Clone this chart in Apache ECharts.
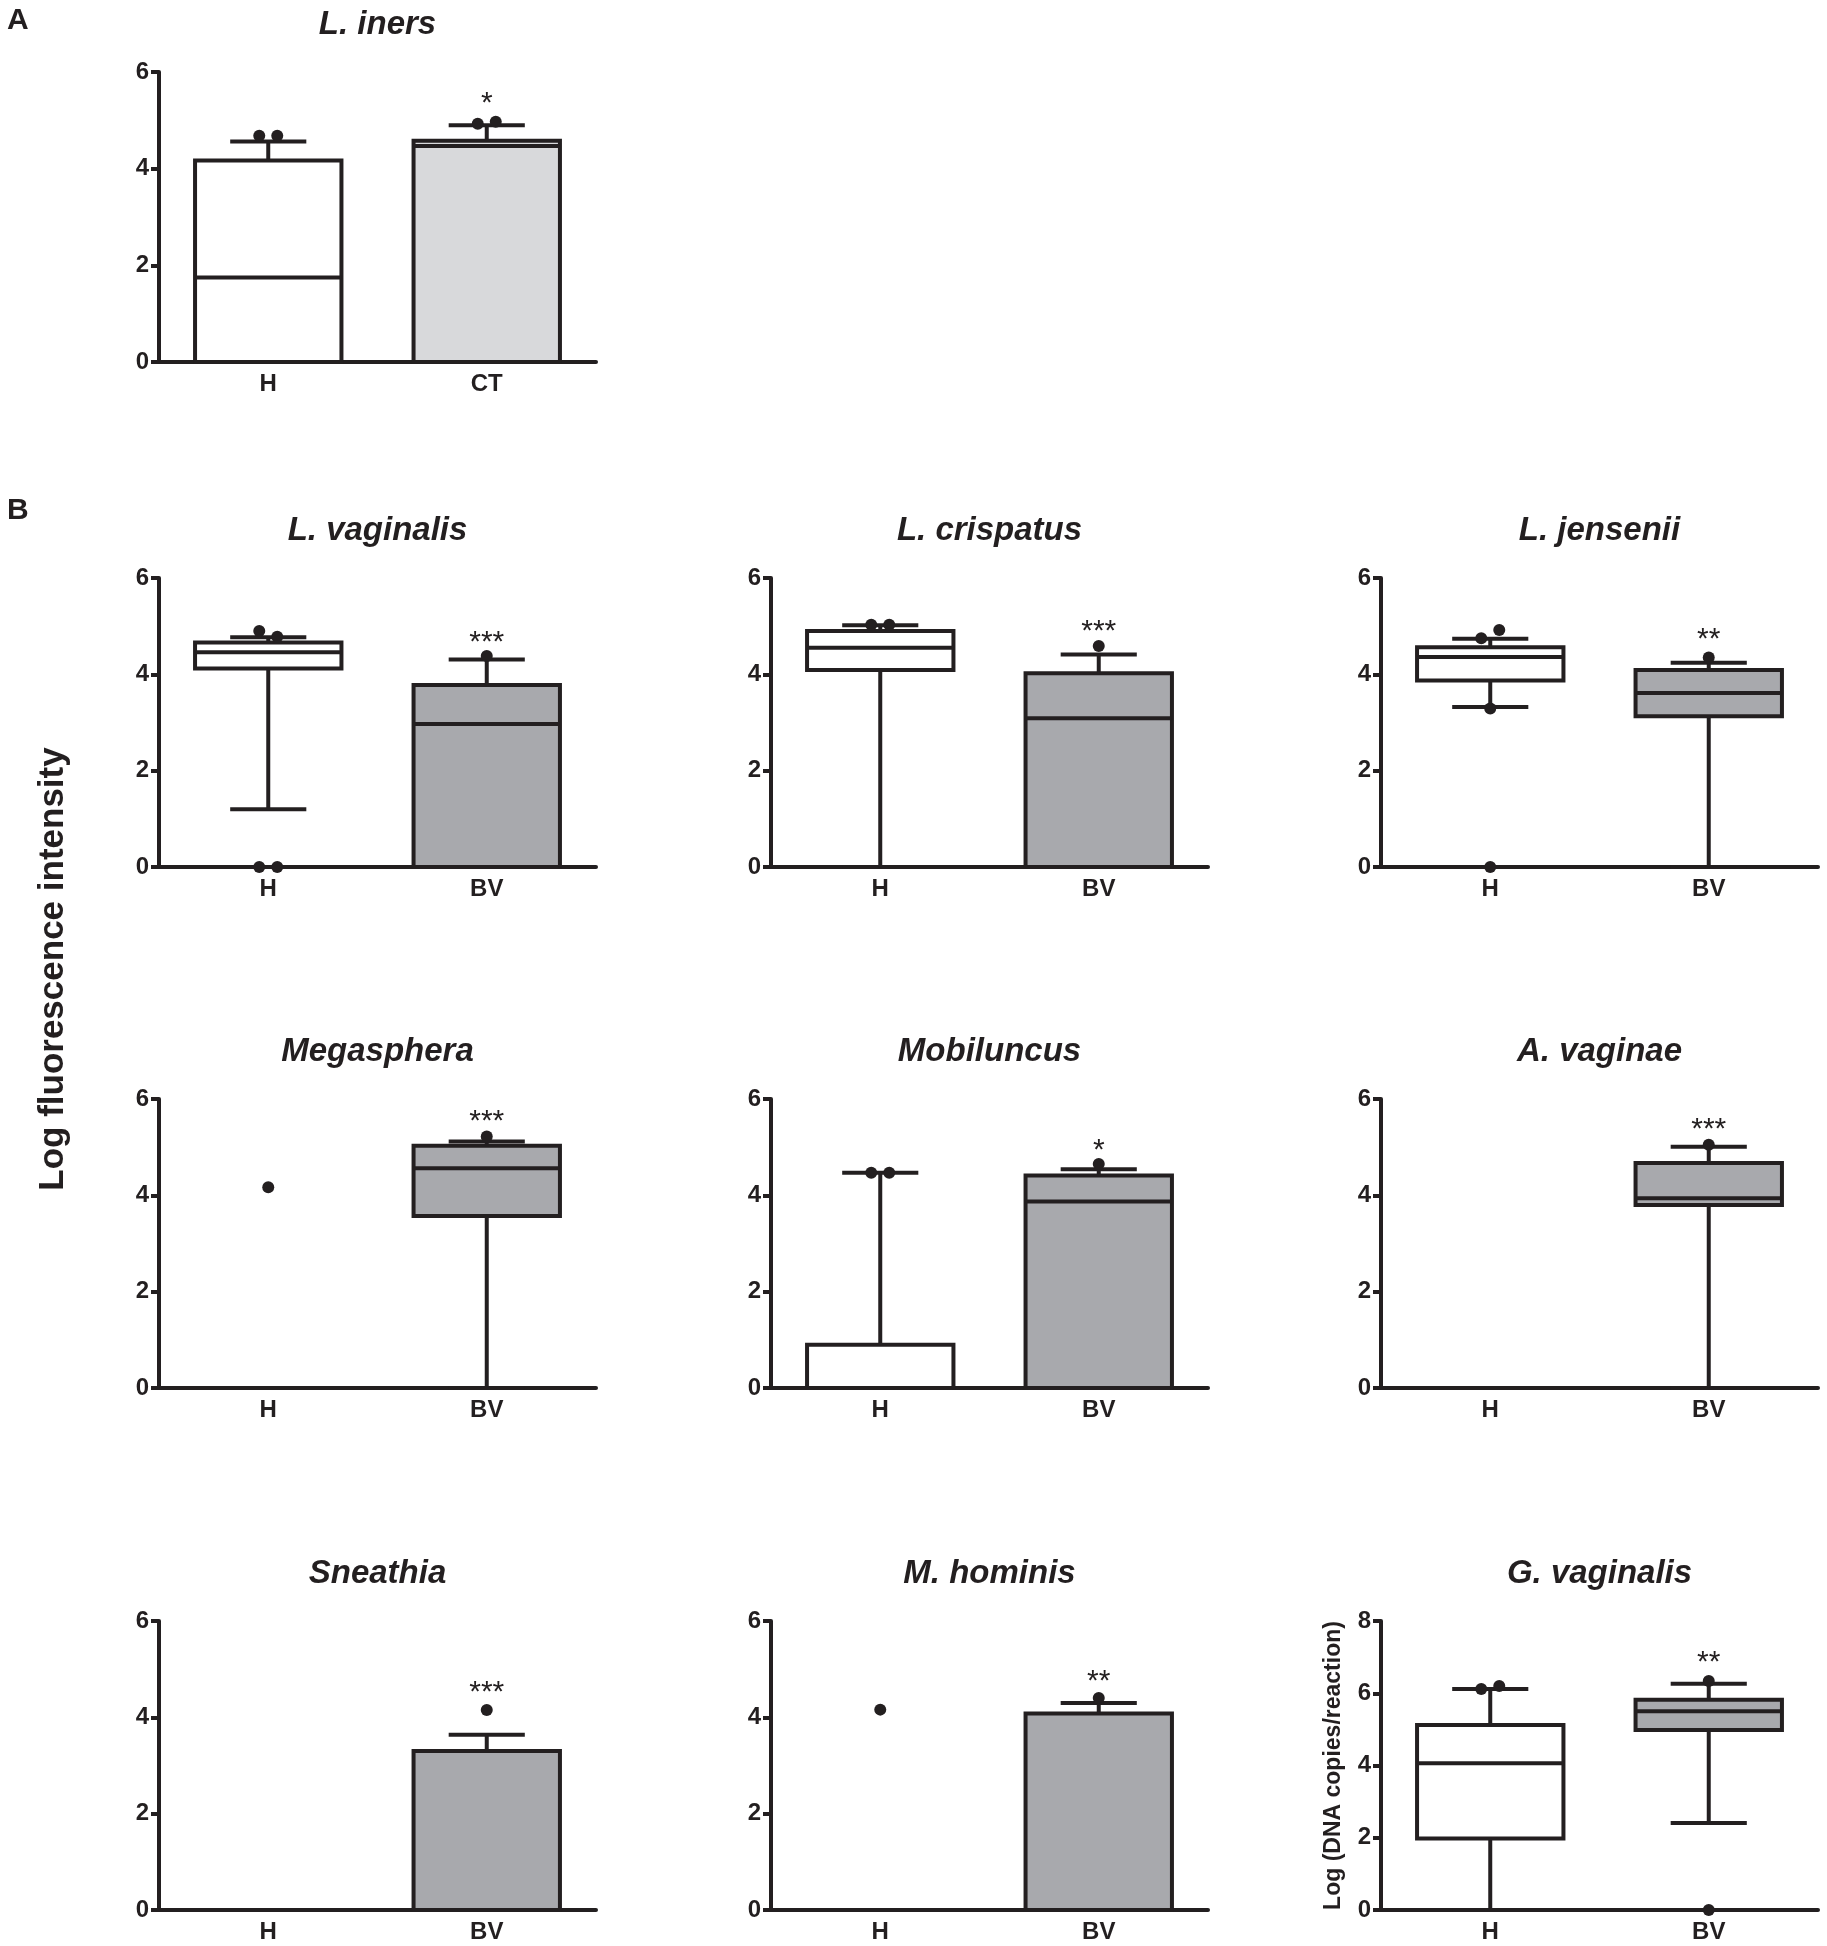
<!DOCTYPE html>
<html><head><meta charset="utf-8">
<script src="https://cdn.jsdelivr.net/npm/echarts@6/dist/echarts.min.js"></script>
<style>html,body{margin:0;padding:0;background:#fff}#c{width:1827px;height:1946px}</style>
</head><body><div id="c"></div>
<script>
// ---------- DATA ----------
const titles = ['L. iners','L. vaginalis','L. crispatus','L. jensenii','Megasphera','Mobiluncus','A. vaginae','Sneathia','M. hominis','G. vaginalis'];
const groupsA = ['H','CT'];
const groupsB = ['H','BV'];
const yTicks6 = [0, 2, 4, 6];
const yTicks8 = [0, 2, 4, 6, 8];
// box stats: [group, min, Q1, median, Q3, max]
const boxLIners      = [['H',0,0,1.75,4.17,4.56],['CT',0,0,4.47,4.58,4.90]];
const boxLVaginalis  = [['H',1.20,4.12,4.46,4.66,4.77],['BV',0,0,2.97,3.78,4.31]];
const boxLCrispatus  = [['H',0,4.09,4.55,4.90,5.02],['BV',0,0,3.09,4.02,4.41]];
const boxLJensenii   = [['H',3.32,3.87,4.36,4.56,4.74],['BV',0,3.13,3.61,4.09,4.24]];
const boxMegasphera  = [['H',0,0,0,0,0],['BV',0,3.57,4.56,5.03,5.12]];
const boxMobiluncus  = [['H',0,0,0,0.90,4.47],['BV',0,0,3.87,4.41,4.54]];
const boxAVaginae    = [['H',0,0,0,0,0],['BV',0,3.80,3.94,4.67,5.01]];
const boxSneathia    = [['H',0,0,0,0,0],['BV',0,0,0,3.30,3.64]];
const boxMHominis    = [['H',0,0,0,0,0],['BV',0,0,0,4.08,4.30]];
const boxGVaginalis  = [['H',0,1.98,4.06,5.12,6.12],['BV',2.41,4.98,5.50,5.82,6.26]];
// outliers: [group, value]
const outLIners      = [['H',4.68],['H',4.68],['CT',4.93],['CT',4.97]];
const outLVaginalis  = [['H',4.90],['H',4.78],['H',0],['H',0],['BV',4.38]];
const outLCrispatus  = [['H',5.03],['H',5.03],['BV',4.59]];
const outLJensenii   = [['H',4.75],['H',4.92],['H',3.29],['H',0],['BV',4.35]];
const outMegasphera  = [['H',4.17],['BV',5.22]];
const outMobiluncus  = [['H',4.47],['H',4.47],['BV',4.65]];
const outAVaginae    = [['BV',5.05]];
const outSneathia    = [['BV',4.15]];
const outMHominis    = [['H',4.16],['BV',4.40]];
const outGVaginalis  = [['H',6.12],['H',6.20],['BV',6.34],['BV',0]];
// significance marks: [group, value, text]
const sigLIners      = [['CT',5.49,'*']];
const sigLVaginalis  = [['BV',4.80,'***']];
const sigLCrispatus  = [['BV',5.02,'***']];
const sigLJensenii   = [['BV',4.87,'**']];
const sigMegasphera  = [['BV',5.67,'***']];
const sigMobiluncus  = [['BV',5.08,'*']];
const sigAVaginae    = [['BV',5.50,'***']];
const sigSneathia    = [['BV',4.65,'***']];
const sigMHominis    = [['BV',4.88,'**']];
const sigGVaginalis  = [['BV',7.05,'**']];

// ---------- STYLE / LAYOUT ----------
const INK = '#231f20';
const LW = 4;
const FONT = "'Liberation Sans', Arial, sans-serif";
const NARROW = "'Liberation Sans Narrow', 'Arial Narrow', 'Liberation Sans', sans-serif";
const WHITE = '#ffffff', GRAY = '#a8a9ad', LIGHT = '#d8d9db';
const colLeft = [159, 771, 1381];
const rowTop = [72, 578, 1099, 1621];
const gridW = 437, gridH = 289;

const panels = [
  {t:0, groups:groupsA, box:boxLIners,     out:outLIners,     sig:sigLIners,     fills:[WHITE, LIGHT], col:0, row:0, ticks:yTicks6},
  {t:1, groups:groupsB, box:boxLVaginalis, out:outLVaginalis, sig:sigLVaginalis, fills:[WHITE, GRAY],  col:0, row:1, ticks:yTicks6},
  {t:2, groups:groupsB, box:boxLCrispatus, out:outLCrispatus, sig:sigLCrispatus, fills:[WHITE, GRAY],  col:1, row:1, ticks:yTicks6},
  {t:3, groups:groupsB, box:boxLJensenii,  out:outLJensenii,  sig:sigLJensenii,  fills:[WHITE, GRAY],  col:2, row:1, ticks:yTicks6},
  {t:4, groups:groupsB, box:boxMegasphera, out:outMegasphera, sig:sigMegasphera, fills:[WHITE, GRAY],  col:0, row:2, ticks:yTicks6},
  {t:5, groups:groupsB, box:boxMobiluncus, out:outMobiluncus, sig:sigMobiluncus, fills:[WHITE, GRAY],  col:1, row:2, ticks:yTicks6},
  {t:6, groups:groupsB, box:boxAVaginae,   out:outAVaginae,   sig:sigAVaginae,   fills:[WHITE, GRAY],  col:2, row:2, ticks:yTicks6},
  {t:7, groups:groupsB, box:boxSneathia,   out:outSneathia,   sig:sigSneathia,   fills:[WHITE, GRAY],  col:0, row:3, ticks:yTicks6},
  {t:8, groups:groupsB, box:boxMHominis,   out:outMHominis,   sig:sigMHominis,   fills:[WHITE, GRAY],  col:1, row:3, ticks:yTicks6},
  {t:9, groups:groupsB, box:boxGVaginalis, out:outGVaginalis, sig:sigGVaginalis, fills:[WHITE, GRAY],  col:2, row:3, ticks:yTicks8,
   yName:'Log (DNA copies/reaction)'}
];

function boxRenderer(fills) {
  return function (params, api) {
    const ci = api.value(0);
    const mn = api.value(1), q1 = api.value(2), md = api.value(3), q3 = api.value(4), mx = api.value(5);
    const cx = api.coord([ci, 0])[0];
    const band = api.size([1, 0])[0];
    const bw = band * 0.67, cw = bw * 0.52;
    const py = v => api.coord([ci, v])[1];
    const st = {stroke: INK, lineWidth: LW};
    const ch = [];
    const vline = (a, b) => ch.push({type:'line', shape:{x1:cx, y1:py(a), x2:cx, y2:py(b)}, style:st});
    const hline = (v, w) => ch.push({type:'line', shape:{x1:cx - w/2, y1:py(v), x2:cx + w/2, y2:py(v)}, style:st});
    if (mx > q3) { vline(q3, mx); hline(mx, cw); }
    if (mn < q1) { vline(mn, q1); hline(mn, cw); }
    if (q3 > q1) ch.push({type:'rect', shape:{x:cx - bw/2, y:py(q3), width:bw, height:py(q1) - py(q3)},
                          style:{fill: fills[ci], stroke: INK, lineWidth: LW}});
    if (md > q1 && md < q3) hline(md, bw);
    return {type:'group', children: ch};
  };
}
function sigRenderer(list) {
  return function (params, api) {
    const p = api.coord([api.value(0), api.value(1)]);
    return {type:'text', x:p[0], y:p[1] + 7,
      style:{text: list[params.dataIndex][2], align:'center', verticalAlign:'middle',
             fontSize: 30, fontFamily: FONT, fill: INK}};
  };
}
function outlierItems(list) {
  const items = [];
  for (let i = 0; i < list.length; i++) {
    const g = list[i][0], v = list[i][1], nx = list[i + 1];
    if (nx && nx[0] === g && Math.abs(nx[1] - v) <= 0.25) {
      items.push({value:[g, v], symbolOffset:[-9, 0]});
      items.push({value:[nx[0], nx[1]], symbolOffset:[9, 0]});
      i++;
    } else items.push({value:[g, v]});
  }
  return items;
}

const grid = [], xAxis = [], yAxis = [], series = [], graphic = [];
panels.forEach((p, i) => {
  const left = colLeft[p.col], top = rowTop[p.row];
  grid.push({left, top, width: gridW, height: p.row === 0 ? 290 : gridH});
  xAxis.push({type:'category', gridIndex:i, data:p.groups, boundaryGap:true,
    axisLine:{lineStyle:{color:INK, width:LW}},
    axisTick:{alignWithLabel:true, length:8, lineStyle:{color:INK, width:LW}},
    axisLabel:{color:INK, fontSize:24, fontWeight:'bold', fontFamily:NARROW, margin:10},
    splitLine:{show:false}});
  const ymax = p.ticks[p.ticks.length - 1];
  const y = {type:'value', gridIndex:i, min:p.ticks[0], max:ymax, interval:p.ticks[1] - p.ticks[0],
    axisLine:{show:true, lineStyle:{color:INK, width:LW}},
    axisTick:{show:true, length:8, lineStyle:{color:INK, width:LW}},
    axisLabel:{color:INK, fontSize:24, fontWeight:'bold', fontFamily:NARROW, margin:10},
    splitLine:{show:false}};
  if (p.yName) {
    Object.assign(y, {name:p.yName, nameLocation:'middle', nameGap:36,
      nameTextStyle:{color:INK, fontSize:23, fontWeight:'bold', fontFamily:FONT}});
  }
  yAxis.push(y);
  series.push({type:'custom', xAxisIndex:i, yAxisIndex:i, renderItem:boxRenderer(p.fills),
    encode:{x:0, y:[1,2,3,4,5]}, data:p.box, z:3});
  series.push({type:'scatter', xAxisIndex:i, yAxisIndex:i, symbol:'circle', symbolSize:12,
    itemStyle:{color:INK, opacity:1}, data:outlierItems(p.out), z:5});
  series.push({type:'custom', xAxisIndex:i, yAxisIndex:i, renderItem:sigRenderer(p.sig),
    encode:{x:0, y:1}, data:p.sig.map(s => [s[0], s[1]]), z:6});
  graphic.push({type:'text', x: left + gridW / 2, y: top - 47,
    style:{text: titles[p.t], align:'center', verticalAlign:'middle', fontSize:33,
           fontWeight:'bold', fontStyle:'italic', fontFamily:FONT, fill:INK}});
});
graphic.push({type:'text', x:7, y:21, style:{text:'A', align:'left', verticalAlign:'middle',
  fontSize:30, fontWeight:'bold', fontFamily:FONT, fill:INK}});
graphic.push({type:'text', x:7, y:511, style:{text:'B', align:'left', verticalAlign:'middle',
  fontSize:30, fontWeight:'bold', fontFamily:FONT, fill:INK}});
graphic.push({type:'text', x:53, y:969, rotation:Math.PI / 2,
  style:{text:'Log fluorescence intensity', align:'center', verticalAlign:'middle',
         fontSize:35, fontWeight:'bold', fontFamily:FONT, fill:INK}});

const chart = echarts.init(document.getElementById('c'), null, {renderer:'canvas'});
chart.setOption({animation:false, backgroundColor:'#ffffff', grid, xAxis, yAxis, series, graphic});
</script></body></html>
